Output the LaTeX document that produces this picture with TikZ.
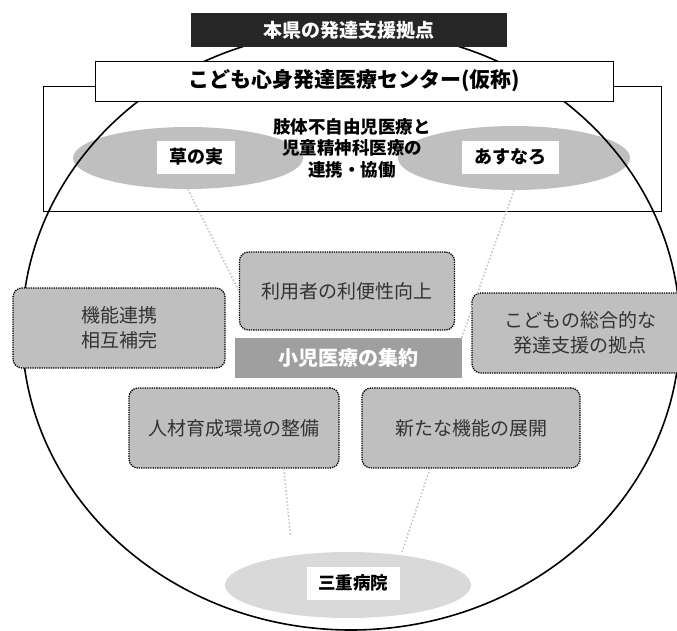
\documentclass[tikz,border=0pt]{standalone}
\usepackage{fontspec}
\setmainfont{Noto Sans CJK JP}
\usepackage{tikz}
\usetikzlibrary{shapes.geometric}
\tikzstyle{gbox} = [draw=black, densely dotted, line width=1.3pt, rounded corners=9pt, fill=gray!50, minimum width=212pt, minimum height=80pt, align=center, text=black!80, font=\fontsize{19}{25}\selectfont]
\tikzstyle{oval} = [ellipse, inner sep=0pt, fill=gray!50]
\tikzstyle{tag} = [fill=white, inner sep=0pt, minimum height=33pt, font=\bfseries\fontsize{18}{20}\selectfont]
\tikzstyle{faint} = [gray!45, dotted, line width=1.6pt]

\begin{document}
\begin{tikzpicture}[yscale=-1]
			\useasboundingbox (0pt,0pt) rectangle (677pt,630pt);
			\draw[line width=0.6pt] (43pt,86pt) rectangle (661pt,211pt);
			\node[oval, minimum width=230pt, minimum height=62pt] (kusaoval) at (188pt,158pt) {};
			\node[oval, minimum width=232pt, minimum height=64pt] (asuoval) at (514pt,158pt) {};
			\node[oval, fill=gray!30, minimum width=246pt, minimum height=66pt] (mieoval) at (348pt,585pt) {};
			\node[tag, minimum width=78pt] (kusa) at (196pt,157pt) {草の実};
			\node[tag, minimum width=97pt] (asu) at (510pt,157pt) {あすなろ};
			\node[tag, minimum width=93pt, font=\bfseries\fontsize{17.5}{20}\selectfont] (mie) at (353pt,583pt) {三重病院};
			\node[align=center, font=\bfseries\fontsize{17.5}{21.5}\selectfont] (renkei) at (352pt,148pt) {肢体不自由児医療と\\児童精神科医療の\\連携・協働};
			\draw[line width=1.6pt] (351pt,330pt) ellipse [x radius=329pt, y radius=300pt];
			\node[draw, line width=0.8pt, fill=white, minimum width=518pt, minimum height=40pt, font=\bfseries\fontsize{21}{24}\selectfont] (center) at (354pt,81pt) {こども心身発達医療センター(仮称)};
			\node[fill=black!85, minimum width=316pt, minimum height=34pt, text=white, font=\bfseries\fontsize{19}{22}\selectfont] (kyoten) at (349pt,30pt) {本県の発達支援拠点};
			\node[gbox] (kino) at (119pt,328pt) {機能連携\\相互補完};
			\node[gbox, minimum width=215pt, minimum height=78pt] (riyou) at (347pt,291pt) {利用者の利便性向上};
			\node[gbox, minimum width=216pt] (sogo) at (580pt,333pt) {こどもの総合的な\\発達支援の拠点};
			\node[gbox, minimum width=210pt] (jinzai) at (234pt,428pt) {人材育成環境の整備};
			\node[gbox, minimum width=218pt] (shintana) at (471pt,428pt) {新たな機能の展開};
			\node[fill=gray!75, minimum width=227pt, minimum height=40pt, text=white, font=\bfseries\fontsize{20}{22}\selectfont] (shuyaku) at (348pt,358pt) {小児医療の集約};
			\draw[faint] (kusaoval.south) -- (riyou.west);
			\draw[faint] (asuoval.south) -- (shuyaku.north east);
			\draw[faint, shorten >=15pt] ([xshift=50pt]jinzai.south) -- ([xshift=-56pt]mieoval.north);
			\draw[faint] ([xshift=-41pt]shintana.south) -- ([xshift=54pt]mieoval.north);
		\end{tikzpicture}
\end{document}
